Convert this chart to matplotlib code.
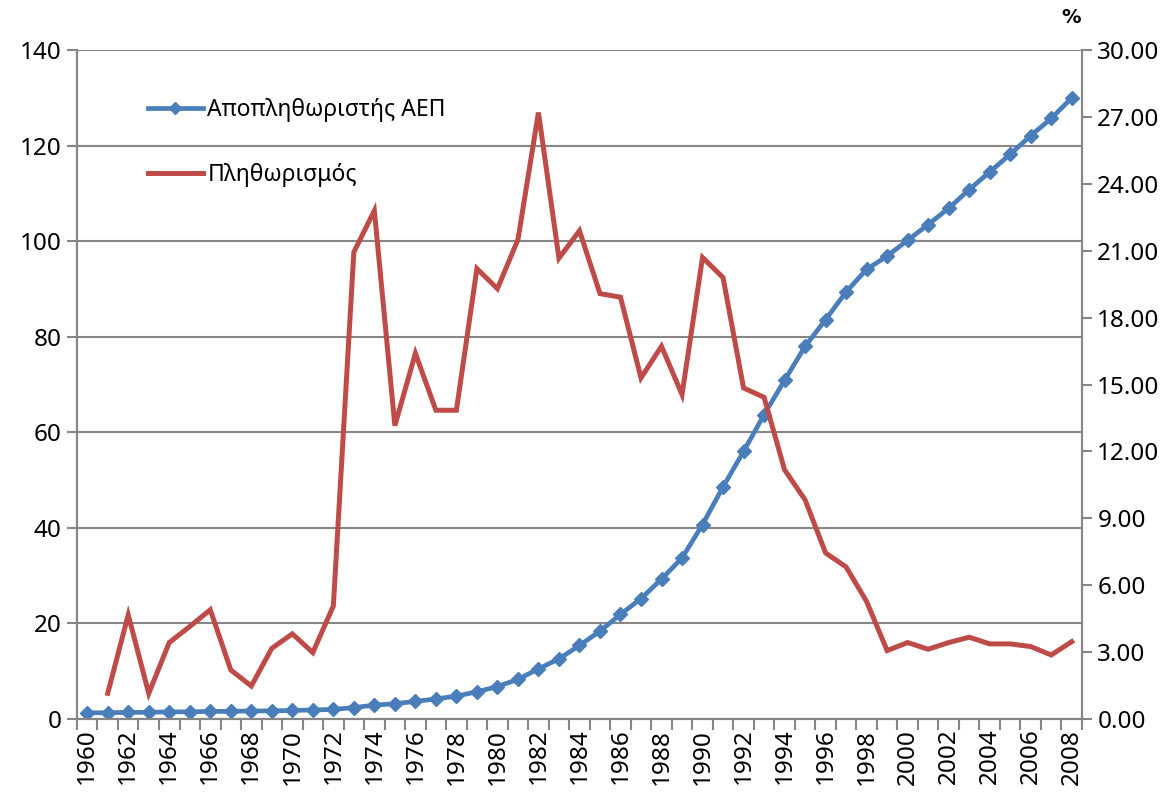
import numpy as np
import matplotlib.pyplot as plt
from matplotlib.lines import Line2D

plt.rcParams['font.family'] = ['Noto Sans', 'DejaVu Sans']

years = list(range(1960, 2009))

# GDP deflator (left axis, 2000 = 100)
deflator = [1.3, 1.3, 1.4, 1.4, 1.5, 1.5, 1.6, 1.6, 1.7, 1.7,
            1.8, 1.9, 2.0, 2.4, 2.9, 3.2, 3.7, 4.2, 4.8, 5.7,
            6.8, 8.3, 10.5, 12.6, 15.4, 18.4, 21.9, 25.2, 29.3, 33.7,
            40.7, 48.6, 56.0, 63.7, 70.9, 78.0, 83.6, 89.4, 94.1, 96.9,
            100.2, 103.5, 106.9, 110.8, 114.5, 118.2, 122.1, 125.7, 130.0]

# inflation % (right axis), no value for 1960
inflation = [np.nan, 1.15, 4.67, 1.15, 3.43, 4.15, 4.9, 2.2, 1.48, 3.17,
             3.82, 2.98, 5.07, 20.94, 22.8, 13.16, 16.4, 13.85, 13.85, 20.2,
             19.3, 21.5, 27.2, 20.67, 21.9, 19.08, 18.92, 15.3, 16.72, 14.55,
             20.7, 19.8, 14.85, 14.43, 11.18, 9.83, 7.45, 6.82, 5.27, 3.07,
             3.43, 3.13, 3.43, 3.67, 3.37, 3.37, 3.25, 2.87, 3.47]

label_deflator = 'Αποπληθωριστής ΑΕΠ'
label_inflation = 'Πληθωρισμός'

blue = '#4A7EBB'
red = '#BE4B48'
grey = '#868686'

fig = plt.figure(figsize=(11.73, 7.96), dpi=100)
ax = fig.add_axes([0.0656, 0.0967, 0.8568, 0.8403])
ax2 = ax.twinx()

x = np.arange(len(years))
ax.plot(x, deflator, color=blue, lw=3.4, marker='D', ms=7.5, zorder=3)
ax2.plot(x, inflation, color=red, lw=3.6, solid_joinstyle='miter', zorder=3)

ax.set_xlim(-0.5, len(years) - 0.5)
ax.set_ylim(0, 140)
ax2.set_ylim(0, 30)
ax.set_yticks(np.arange(0, 141, 20))
ax2.set_yticks(np.arange(0, 30.01, 3))
ax2.set_yticklabels([f'{v:.2f}' for v in np.arange(0, 30.01, 3)])

# year labels every two years, tick marks between categories
ax.set_xticks(x[::2])
ax.set_xticklabels([str(y) for y in years[::2]], rotation=90)
ax.set_xticks(np.arange(-0.5, len(years), 1), minor=True)
ax.tick_params(axis='x', which='major', length=0, labelsize=17.5, pad=7)
ax.tick_params(axis='x', which='minor', length=8, width=1.5, color=grey)
ax.tick_params(axis='y', length=7, width=1.5, color=grey, labelsize=17.5, pad=4)
ax2.tick_params(axis='y', length=7, width=1.5, color=grey, labelsize=17.5, pad=4)

ax.yaxis.grid(True, color=grey, lw=1.5)
ax.set_axisbelow(True)
for a in (ax, ax2):
    a.spines['top'].set_visible(False)
    for s in ('left', 'right', 'bottom'):
        a.spines[s].set_color(grey)
        a.spines[s].set_linewidth(1.5)

fig.text(0.913, 0.978, '%', fontsize=14, fontweight='bold', family='DejaVu Sans',
         ha='center', va='center')

handles = [Line2D([], [], color=blue, lw=3.4, marker='D', ms=7.5),
           Line2D([], [], color=red, lw=3.6)]
ax2.legend(handles, [label_deflator, label_inflation], loc='upper left',
           bbox_to_anchor=(0.05, 0.96), frameon=False, fontsize=16.5,
           handlelength=2.4, handletextpad=0.2, labelspacing=1.8,
           markerscale=0.8)

fig.savefig('out.png', dpi=100)
